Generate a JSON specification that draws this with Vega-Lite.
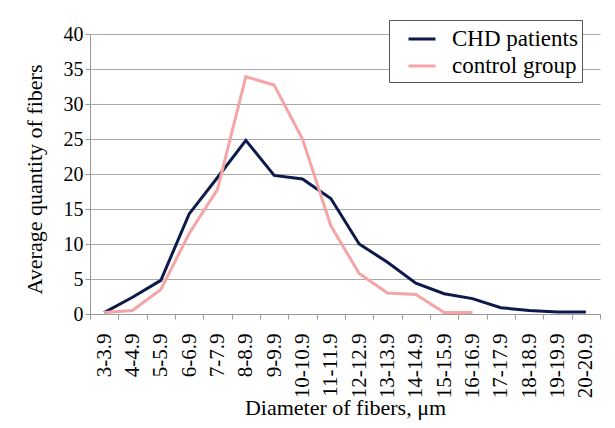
{
  "$schema": "https://vega.github.io/schema/vega-lite/v6.json",
  "width": 510,
  "height": 280,
  "autosize": {"type": "none"},
  "padding": {"left": 90, "top": 34, "right": 15, "bottom": 114},
  "background": "white",
  "config": {
    "font": "Liberation Serif",
    "view": {"stroke": null}
  },
  "data": {
    "values": [
      {"range": "3-3.9", "group": "CHD patients", "value": 0.2},
      {"range": "4-4.9", "group": "CHD patients", "value": 2.4},
      {"range": "5-5.9", "group": "CHD patients", "value": 4.8},
      {"range": "6-6.9", "group": "CHD patients", "value": 14.3},
      {"range": "7-7.9", "group": "CHD patients", "value": 19.5},
      {"range": "8-8.9", "group": "CHD patients", "value": 24.8},
      {"range": "9-9.9", "group": "CHD patients", "value": 19.8},
      {"range": "10-10.9", "group": "CHD patients", "value": 19.3},
      {"range": "11-11.9", "group": "CHD patients", "value": 16.5},
      {"range": "12-12.9", "group": "CHD patients", "value": 10.0},
      {"range": "13-13.9", "group": "CHD patients", "value": 7.4},
      {"range": "14-14.9", "group": "CHD patients", "value": 4.4},
      {"range": "15-15.9", "group": "CHD patients", "value": 2.9},
      {"range": "16-16.9", "group": "CHD patients", "value": 2.2},
      {"range": "17-17.9", "group": "CHD patients", "value": 0.9},
      {"range": "18-18.9", "group": "CHD patients", "value": 0.5},
      {"range": "19-19.9", "group": "CHD patients", "value": 0.3},
      {"range": "20-20.9", "group": "CHD patients", "value": 0.3},
      {"range": "3-3.9", "group": "control group", "value": 0.2},
      {"range": "4-4.9", "group": "control group", "value": 0.5},
      {"range": "5-5.9", "group": "control group", "value": 3.5},
      {"range": "6-6.9", "group": "control group", "value": 11.5},
      {"range": "7-7.9", "group": "control group", "value": 17.8},
      {"range": "8-8.9", "group": "control group", "value": 33.9},
      {"range": "9-9.9", "group": "control group", "value": 32.7},
      {"range": "10-10.9", "group": "control group", "value": 25.0},
      {"range": "11-11.9", "group": "control group", "value": 12.6},
      {"range": "12-12.9", "group": "control group", "value": 5.8},
      {"range": "13-13.9", "group": "control group", "value": 3.0},
      {"range": "14-14.9", "group": "control group", "value": 2.8},
      {"range": "15-15.9", "group": "control group", "value": 0.2},
      {"range": "16-16.9", "group": "control group", "value": 0.2}
    ]
  },
  "mark": {"type": "line", "strokeWidth": 3},
  "encoding": {
    "x": {
      "field": "range",
      "type": "ordinal",
      "sort": ["3-3.9","4-4.9","5-5.9","6-6.9","7-7.9","8-8.9","9-9.9","10-10.9","11-11.9","12-12.9","13-13.9","14-14.9","15-15.9","16-16.9","17-17.9","18-18.9","19-19.9","20-20.9"],
      "scale": {"type": "band", "paddingInner": 0, "paddingOuter": 0},
      "axis": {
        "title": "Diameter of fibers, μm",
        "titleFont": "Liberation Serif",
        "titleFontSize": 22,
        "titleFontWeight": "normal",
        "titleColor": "black",
        "titlePadding": 0,
        "labelAngle": 270,
        "labelFont": "Liberation Serif",
        "labelFontSize": 21,
        "labelColor": "black",
        "labelPadding": 14,
        "tickBand": "extent",
        "tickColor": "#9a9a9a",
        "tickSize": 5,
        "domainColor": "#9a9a9a",
        "grid": false
      }
    },
    "y": {
      "field": "value",
      "type": "quantitative",
      "scale": {"domain": [0, 40], "nice": false},
      "axis": {
        "values": [0, 5, 10, 15, 20, 25, 30, 35, 40],
        "title": "Average quantity of fibers",
        "titleFont": "Liberation Serif",
        "titleFontSize": 22,
        "titleFontWeight": "normal",
        "titleColor": "black",
        "titlePadding": 17,
        "titleY": 145,
        "labelFont": "Liberation Serif",
        "labelFontSize": 20,
        "labelColor": "black",
        "labelPadding": 2,
        "tickColor": "#9a9a9a",
        "tickSize": 5,
        "domainColor": "#9a9a9a",
        "grid": true,
        "gridColor": "#a8a8a8"
      }
    },
    "color": {
      "field": "group",
      "type": "nominal",
      "scale": {"domain": ["CHD patients", "control group"], "range": ["#0b1a4a", "#f5a5a5"]},
      "legend": {
        "title": null,
        "orient": "none",
        "legendX": 299,
        "legendY": -14,
        "strokeColor": "#555555",
        "fillColor": "white",
        "padding": 4,
        "rowPadding": 0,
        "symbolType": "stroke",
        "symbolStrokeWidth": 3,
        "symbolSize": 729,
        "symbolOffset": 14,
        "labelOffset": 15,
        "labelFont": "Liberation Serif",
        "labelFontSize": 23,
        "labelColor": "black",
        "labelLimit": 300
      }
    }
  }
}
